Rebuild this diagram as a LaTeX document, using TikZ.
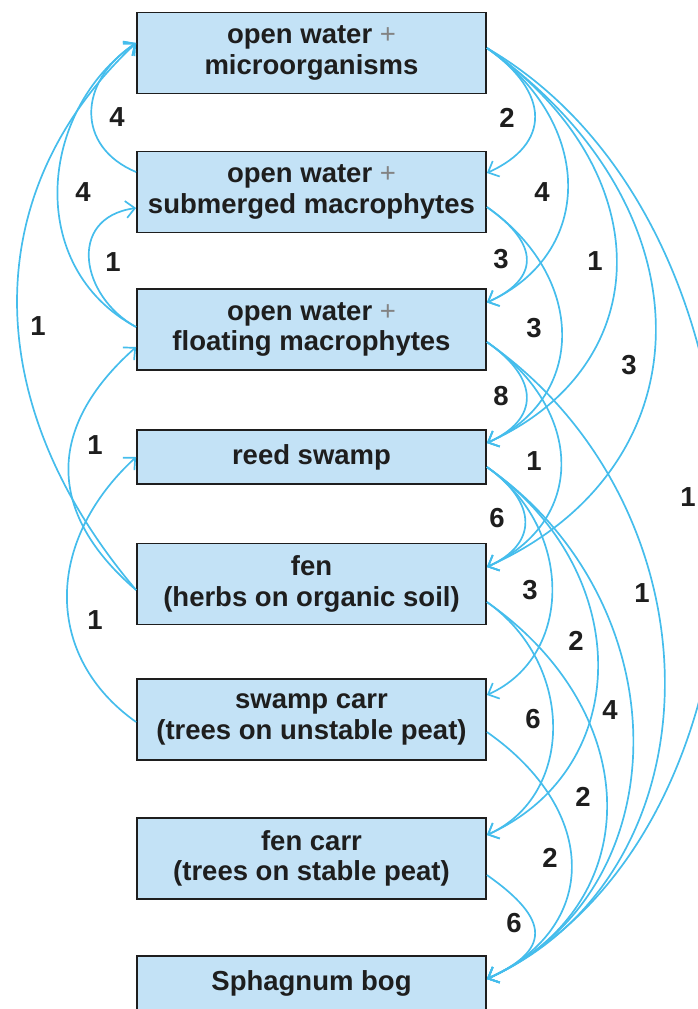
\documentclass[tikz,border=0pt]{standalone}
\usepackage{fontspec}
\setmainfont{Liberation Sans}
\usetikzlibrary{arrows.meta}
\definecolor{boxfill}{HTML}{C3E2F6}
\definecolor{flow}{HTML}{45BDEC}
\definecolor{ink}{HTML}{1E1E1E}
\begin{document}
\begin{tikzpicture}[x=1pt,y=-1pt,
  stagebox/.style={draw=ink, line width=1.8pt, fill=boxfill, minimum width=349pt,
    inner sep=0pt, align=center, text=ink, font=\bfseries\fontsize{27.5}{30.5}\selectfont},
  boxtall/.style={stagebox, minimum height=81pt},
  boxshort/.style={stagebox, minimum height=54pt},
  numlabel/.style={text=ink, inner sep=0pt, font=\bfseries\fontsize{27.5}{30}\selectfont},
  flowarrow/.style={draw=flow, line width=1.7pt, -{Straight Barb[length=9pt,width=17pt]}}
]
\useasboundingbox (0,0) rectangle (698,1009);
\clip (0,0) rectangle (698,1009);

% stages
\node[boxtall]  (b1) at (311.5,53)    {open water {\mdseries\color{ink!55}+}\\microorganisms};
\node[boxtall]  (b2) at (311.5,192)   {open water {\mdseries\color{ink!55}+}\\submerged macrophytes};
\node[boxtall]  (b3) at (311.5,329.5) {open water {\mdseries\color{ink!55}+}\\floating macrophytes};
\node[boxshort] (b4) at (311.5,457)   {reed swamp};
\node[boxtall]  (b5) at (311.5,584)   {fen\\(herbs on organic soil)};
\node[boxtall]  (b6) at (311.5,719.5) {swamp carr\\(trees on unstable peat)};
\node[boxtall]  (b7) at (311.5,858.5) {fen carr\\(trees on stable peat)};
\node[boxshort] (b8) at (311.5,983)   {Sphagnum bog};

% right side: forward transitions
\draw[flowarrow] ([yshift=5pt]b1.east) .. controls +(64,45) and +(64,-29) .. ([yshift=19pt]b2.east);
\draw[flowarrow] ([yshift=5pt]b1.east) .. controls +(108,76) and +(108,-49) .. ([yshift=27pt]b3.east);
\draw[flowarrow] ([yshift=5pt]b1.east) .. controls +(173,121) and +(173,-78) .. ([yshift=14pt]b4.east);
\draw[flowarrow] ([yshift=5pt]b1.east) .. controls +(225,158) and +(225,-101) .. ([yshift=17pt]b5.east);
\draw[flowarrow] ([yshift=5pt]b1.east) .. controls +(313,182) and +(313,-149) .. ([yshift=4pt]b8.east);

\draw[flowarrow] ([yshift=-15pt]b2.east) .. controls +(53,37) and +(53,-24) .. ([yshift=27pt]b3.east);
\draw[flowarrow] ([yshift=-15pt]b2.east) .. controls +(100,70) and +(100,-45) .. ([yshift=14pt]b4.east);

\draw[flowarrow] ([yshift=-12.5pt]b3.east) .. controls +(53,37) and +(53,-24) .. ([yshift=14pt]b4.east);
\draw[flowarrow] ([yshift=-12.5pt]b3.east) .. controls +(99,69) and +(99,-45) .. ([yshift=17pt]b5.east);
\draw[flowarrow] ([yshift=-12.5pt]b3.east) .. controls +(237,166) and +(237,-107) .. ([yshift=4pt]b8.east);

\draw[flowarrow] ([yshift=-10pt]b4.east) .. controls +(51,36) and +(51,-23) .. ([yshift=17pt]b5.east);
\draw[flowarrow] ([yshift=-10pt]b4.east) .. controls +(87,61) and +(87,-39) .. ([yshift=24.5pt]b6.east);
\draw[flowarrow] ([yshift=-10pt]b4.east) .. controls +(148,104) and +(148,-67) .. ([yshift=23.5pt]b7.east);
\draw[flowarrow] ([yshift=-10pt]b4.east) .. controls +(195,136) and +(195,-88) .. ([yshift=4pt]b8.east);

\draw[flowarrow] ([yshift=-18pt]b5.east) .. controls +(88,62) and +(88,-40) .. ([yshift=23.5pt]b7.east);
\draw[flowarrow] ([yshift=-18pt]b5.east) .. controls +(160,112) and +(160,-72) .. ([yshift=4pt]b8.east);

\draw[flowarrow] ([yshift=-12.5pt]b6.east) .. controls +(113,79) and +(113,-51) .. ([yshift=4pt]b8.east);

\draw[flowarrow] ([yshift=-16.5pt]b7.east) .. controls +(64,45) and +(64,-29) .. ([yshift=4pt]b8.east);

% left side: reverse transitions
\draw[flowarrow] ([yshift=20pt]b2.west) .. controls +(-60,-25) and +(-59,39) .. ([yshift=10pt]b1.west);
\draw[flowarrow] ([yshift=2.5pt]b3.west) .. controls +(-112,-60) and +(-97,67) .. ([yshift=10pt]b1.west);
\draw[flowarrow] ([yshift=2.5pt]b3.west) .. controls +(-55,-30) and +(-70,10) .. ([yshift=-16pt]b2.west);
\draw[flowarrow] ([yshift=-6pt]b5.west) .. controls +(-157,-185) and +(-160,150) .. ([yshift=10pt]b1.west);
\draw[flowarrow] ([yshift=-6pt]b5.west) .. controls +(-90,-77) and +(-90,80) .. ([yshift=-17.5pt]b3.west);
\draw[flowarrow] ([yshift=-2.5pt]b6.west) .. controls +(-92,-65) and +(-92,85) .. (b4.west);

% counts, right
\node[numlabel] (r1)  at (507,118) {2};
\node[numlabel] (r2)  at (542,192) {4};
\node[numlabel] (r3)  at (501,259) {3};
\node[numlabel] (r4)  at (595,261) {1};
\node[numlabel] (r5)  at (534,328) {3};
\node[numlabel] (r6)  at (629,365) {3};
\node[numlabel] (r7)  at (501,396) {8};
\node[numlabel] (r8)  at (534,461) {1};
\node[numlabel] (r9)  at (497,518) {6};
\node[numlabel] (r10) at (688,497) {1};
\node[numlabel] (r11) at (530,590) {3};
\node[numlabel] (r12) at (642,593) {1};
\node[numlabel] (r13) at (576,641) {2};
\node[numlabel] (r14) at (533,719) {6};
\node[numlabel] (r15) at (610,710) {4};
\node[numlabel] (r16) at (583,797) {2};
\node[numlabel] (r17) at (550,858) {2};
\node[numlabel] (r18) at (514,923) {6};
% counts, left
\node[numlabel] (q1) at (117,117) {4};
\node[numlabel] (q2) at (83,192)  {4};
\node[numlabel] (q3) at (113,262) {1};
\node[numlabel] (q4) at (38,326)  {1};
\node[numlabel] (q5) at (95,445)  {1};
\node[numlabel] (q6) at (95,620)  {1};
\end{tikzpicture}
\end{document}
